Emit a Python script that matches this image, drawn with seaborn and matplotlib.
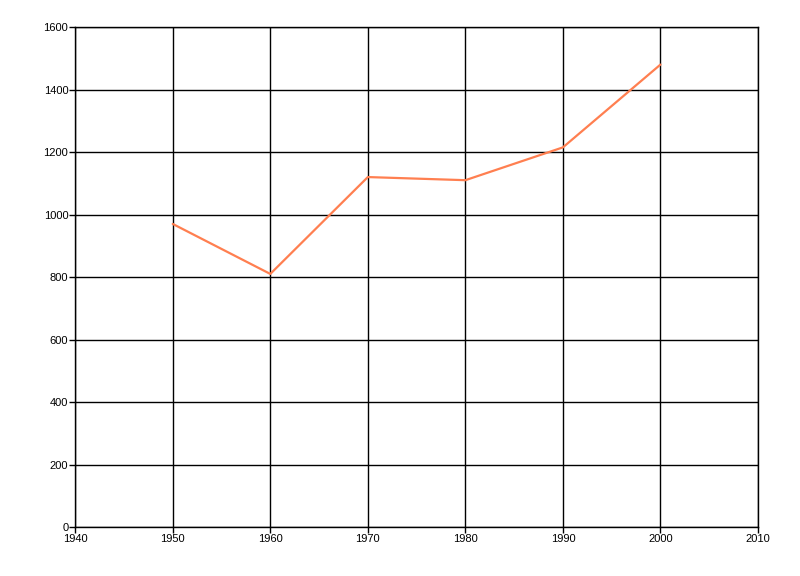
import matplotlib
matplotlib.use('Agg')
import matplotlib.pyplot as plt
import pandas as pd
import seaborn as sns

# data
years = [1950, 1960, 1970, 1980, 1990, 2000]
values = [970, 810, 1120, 1110, 1215, 1480]

df = pd.DataFrame({'year': years, 'value': values})

sns.set_style('white')
plt.rcParams['font.family'] = ['Liberation Sans', 'DejaVu Sans']

fig = plt.figure(figsize=(8, 5.76), dpi=100)
ax = fig.add_axes([0.094, 0.085, 0.8535, 0.868])

sns.lineplot(data=df, x='year', y='value', ax=ax, color='#FF7F50', linewidth=1.6)

ax.set_xlim(1940, 2010)
ax.set_ylim(0, 1600)
ax.set_xticks(range(1940, 2011, 10))
ax.set_yticks(range(0, 1601, 200))
ax.grid(True, color='black', linewidth=1)
ax.set_axisbelow(True)
ax.set_xlabel('')
ax.set_ylabel('')
# grid lines at the outer edges get clipped, so let the spines draw them
for side in ['left', 'bottom', 'top', 'right']:
    ax.spines[side].set_color('black')
    ax.spines[side].set_linewidth(1)
ax.tick_params(axis='both', direction='out', length=4, width=1, color='black',
               labelcolor='black', labelsize=8, pad=1, bottom=True, left=True)

fig.savefig('out.png', dpi=100)
